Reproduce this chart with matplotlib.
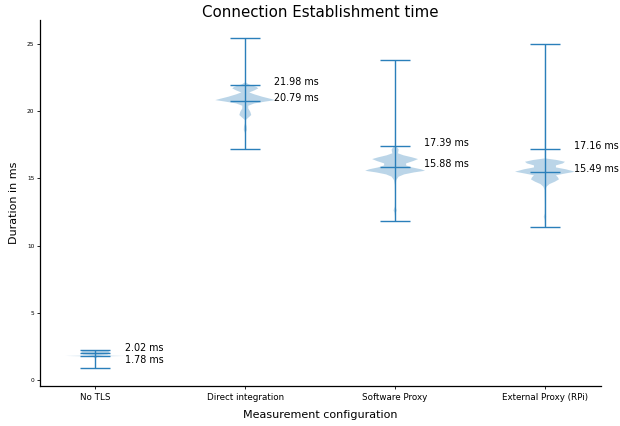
import numpy as np
import matplotlib
matplotlib.use("Agg")
import matplotlib.pyplot as plt

# ---- data ----
categories = ["No TLS", "Direct integration", "Software Proxy", "External Proxy (RPi)"]
minimums = [0.87, 17.19, 11.85, 11.38]
maximums = [2.22, 25.45, 23.80, 25.00]
medians = [1.78, 20.79, 15.88, 15.49]
upper_q = [2.02, 21.98, 17.39, 17.16]

# density profiles (value, relative half width)
notls_y = [0.87, 1.30, 1.60, 1.72, 1.76, 1.79, 1.82, 1.86, 1.90, 2.00, 2.10, 2.20, 2.22]
notls_w = [0.0, 0.2, 0.4, 2.0, 8.0, 30.0, 8.0, 3.0, 12.0, 14.0, 14.0, 12.0, 0.0]

direct_y = [17.19, 18.00, 18.28, 18.43, 18.60, 18.85, 19.10, 19.35, 19.52, 19.72, 19.96,
            20.21, 20.41, 20.58, 20.73, 20.83, 20.93, 21.08, 21.26, 21.40, 21.55,
            21.70, 21.82, 22.00, 22.15, 25.45]
direct_w = [0.0, 0.1, 0.2, 0.5, 1.5, 1.3, 0.5, 0.5, 3.0, 6.0, 5.0,
            3.0, 3.0, 9.0, 21.0, 30.0, 25.0, 17.0, 9.0, 4.0, 9.0,
            13.0, 11.0, 3.5, 0.3, 0.0]

software_y = [11.85, 12.20, 12.45, 12.60, 12.72, 12.90, 13.64, 14.50, 14.88, 15.13, 15.30,
              15.45, 15.57, 15.68, 15.82, 15.97, 16.12, 16.29, 16.44, 16.57, 16.72,
              16.87, 17.01, 17.16, 17.31, 17.41, 23.80]
software_w = [0.0, 0.2, 0.6, 1.5, 1.2, 0.3, 0.2, 0.4, 1.2, 3.5, 9.0,
              19.0, 30.0, 26.0, 17.0, 11.0, 11.0, 18.0, 23.0, 17.0, 8.5,
              2.8, 3.2, 3.5, 2.0, 0.3, 0.0]

external_y = [11.38, 11.90, 12.15, 12.40, 13.00, 14.14, 14.38, 14.58, 14.76, 14.93, 15.08,
              15.23, 15.35, 15.50, 15.68, 15.82, 15.97, 16.12, 16.24, 16.37, 16.49, 25.00]
external_w = [0.0, 0.3, 1.2, 0.3, 0.2, 0.5, 1.5, 4.5, 10.0, 14.0, 13.0,
              11.0, 19.0, 30.0, 21.0, 11.0, 11.0, 18.0, 20.0, 12.0, 0.3, 0.0]

profiles_y = [notls_y, direct_y, software_y, external_y]
profiles_w = [notls_w, direct_w, software_w, external_w]

# ---- figure ----
fig = plt.figure(figsize=(6.2, 4.26), dpi=100)
ax = fig.add_axes([40 / 620, 40 / 426, 561 / 620, 366 / 426])

positions = np.arange(1, len(categories) + 1)
vpstats = []
for i in range(len(categories)):
    vpstats.append(dict(
        coords=np.array(profiles_y[i]),
        vals=np.array(profiles_w[i]),
        mean=medians[i],
        median=medians[i],
        min=minimums[i],
        max=maximums[i],
        quantiles=np.array([upper_q[i]]),
    ))

parts = ax.violin(vpstats, positions=positions, widths=0.4,
                  showmeans=False, showextrema=True, showmedians=True)
for b in parts["bodies"]:
    b.set_facecolor("#1f77b4")
    b.set_alpha(0.3)
    b.set_edgecolor("none")
for key in ("cmins", "cmaxes", "cbars", "cmedians", "cquantiles"):
    if key in parts:
        parts[key].set_color("#2a7fba")
        parts[key].set_linewidth(1.0)

# annotations
label_dy_q = [0.16, 0.0, 0.0, 0.0]
label_dy_m = [-0.49, 0.0, 0.0, 0.0]
for i, p in enumerate(positions):
    ax.text(p + 0.195, upper_q[i] + label_dy_q[i], f"{upper_q[i]:.2f} ms",
            fontsize=6.9, va="baseline", ha="left")
    ax.text(p + 0.195, medians[i] + label_dy_m[i], f"{medians[i]:.2f} ms",
            fontsize=6.9, va="baseline", ha="left")

ax.set_xlim(0.63, 4.374)
ax.set_ylim(-0.446, 26.79)
ax.set_xticks(positions)
ax.set_xticklabels(categories, fontsize=6.3)
ax.set_yticks([0, 5, 10, 15, 20, 25])
ax.tick_params(axis="y", labelsize=4.2, length=2.5, width=0.6, pad=1.5)
ax.tick_params(axis="x", length=2.5, width=0.6, pad=2.5)
ax.spines["top"].set_visible(False)
ax.spines["right"].set_visible(False)
ax.spines["left"].set_linewidth(0.9)
ax.spines["bottom"].set_linewidth(0.9)

ax.set_title("Connection Establishment time", fontsize=10.8, pad=1.5)
ax.set_xlabel("Measurement configuration", fontsize=8.0, labelpad=6)
ax.set_ylabel("Duration in ms", fontsize=8.0, labelpad=5.5)

fig.savefig("out.png", dpi=100)
